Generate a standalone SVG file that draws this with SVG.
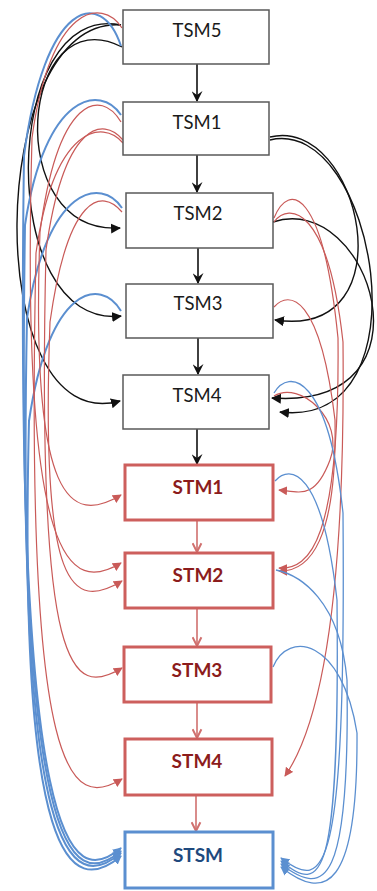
<svg xmlns="http://www.w3.org/2000/svg" width="377" height="891" viewBox="0 0 377 891">
<style>
.tsm rect{fill:#fff;stroke:#595959;stroke-width:1.5}
.stm rect{fill:#fff;stroke:#cd5f5d;stroke-width:3}
.stsm rect{fill:#fff;stroke:#5b8fd0;stroke-width:3}
text{font-family:Lato,"Open Sans","Liberation Sans",sans-serif;font-size:18.5px;text-anchor:middle}
.tsm text{fill:#1a1a1a}
.stm text{fill:#8c1c1c;font-weight:bold;font-size:19px}
.stsm text{fill:#1f497d;font-weight:bold;font-size:19px}
.k{fill:none;stroke:#111;stroke-width:1.4}
.kv{fill:none;stroke:#111;stroke-width:1.6}
.r{fill:none;stroke:#c95a58;stroke-width:1.2}
.rv{fill:none;stroke:#d0706e;stroke-width:1.6}
.b{fill:none;stroke:#5b8fd0;stroke-width:1.3}
.bl{fill:none;stroke:#5b8fd0;stroke-width:2}
</style>
<defs>
<marker id="mkv" viewBox="0 0 10 10" refX="9" refY="5" markerWidth="11" markerHeight="11" markerUnits="userSpaceOnUse" orient="auto"><path d="M0,0 L10,5 L0,10 L3.5,5 z" fill="#111"/></marker>
<marker id="mk" viewBox="0 0 10 10" refX="9" refY="5" markerWidth="10" markerHeight="10" markerUnits="userSpaceOnUse" orient="auto"><path d="M0,0 L10,5 L0,10 z" fill="#111"/></marker>
<marker id="mrv" viewBox="0 0 10 10" refX="9" refY="5" markerWidth="11" markerHeight="11" markerUnits="userSpaceOnUse" orient="auto"><path d="M1,1 L9,5 L1,9" fill="none" stroke="#d0706e" stroke-width="1.8"/></marker>
<marker id="mr" viewBox="0 0 10 10" refX="9" refY="5" markerWidth="9" markerHeight="9" markerUnits="userSpaceOnUse" orient="auto"><path d="M0,0 L10,5 L0,10 z" fill="#c95a58"/></marker>
<marker id="mb" viewBox="0 0 10 10" refX="9" refY="5" markerWidth="9" markerHeight="9" markerUnits="userSpaceOnUse" orient="auto"><path d="M0,0 L10,5 L0,10 z" fill="#5b8fd0"/></marker>
</defs>
<g id="connectors">
<path class="kv" d="M197,64 L197,101" marker-end="url(#mkv)"/>
<path class="kv" d="M197,155 L197,192" marker-end="url(#mkv)"/>
<path class="kv" d="M198,248 L198,283" marker-end="url(#mkv)"/>
<path class="kv" d="M198,338 L198,374" marker-end="url(#mkv)"/>
<path class="kv" d="M197,429 L197,464" marker-end="url(#mkv)"/>
<path class="rv" d="M197,521 L197,552" marker-end="url(#mrv)"/>
<path class="rv" d="M197,609 L197,646" marker-end="url(#mrv)"/>
<path class="rv" d="M197,703 L197,738" marker-end="url(#mrv)"/>
<path class="rv" d="M196,796 L196,831" marker-end="url(#mrv)"/>
<path class="k" d="M122,47 C20,-5 0,235 120,228" marker-end="url(#mk)"/>
<path class="k" d="M121,25 C0,0 -5,330 121,316" marker-end="url(#mk)"/>
<path class="k" d="M121,25 C-15,15 -20,440 120,401" marker-end="url(#mk)"/>
<path class="k" d="M270,137 C360,115 410,340 275,320" marker-end="url(#mk)"/>
<path class="k" d="M270,140 C375,115 430,430 280,412" marker-end="url(#mk)"/>
<path class="k" d="M273,222 C370,190 440,410 272,398" marker-end="url(#mk)"/>
<path class="bl" d="M121,46 C101,-14 44,1 24,156 C14,858 71,890 121,848" marker-end="url(#mb)"/>
<path class="bl" d="M121,115 C101,84 45,92 25,225 C15,861 71,893 121,851" marker-end="url(#mb)"/>
<path class="bl" d="M122,208 C102,177 47,185 27,318 C16,863 71,895 121,853" marker-end="url(#mb)"/>
<path class="bl" d="M121,311 C101,277 49,285 29,421 C18,866 71,898 121,856" marker-end="url(#mb)"/>
<path class="r" d="M122,28 C102,-3 50,5 32,138 C20,573 71,593 121,563" marker-end="url(#mr)"/>
<path class="r" d="M121,122 C101,88 58,96 40,232 C30,505 71,525 121,495" marker-end="url(#mr)"/>
<path class="r" d="M123,140 C103,116 64,122 46,250 C36,678 72,698 122,668" marker-end="url(#mr)"/>
<path class="r" d="M123,143 C103,119 54,125 36,253 C24,789 72,809 122,779" marker-end="url(#mr)"/>
<path class="r" d="M122,212 C102,188 68,194 50,322 C40,591 72,611 122,581" marker-end="url(#mr)"/>
<path class="r" d="M274,218 C289,181 323,189 338,338 C340,540 310,570 279,568" marker-end="url(#mr)"/>
<path class="r" d="M274,222 C289,202 328,206 343,342 C346,650 310,740 285,776" marker-end="url(#mr)"/>
<path class="r" d="M274,307 C289,290 320,294 335,420 C337,540 310,572 279,571" marker-end="url(#mr)"/>
<path class="r" d="M274,396 C300,380 345,420 330,460 C315,500 300,492 279,490" marker-end="url(#mr)"/>
<path class="b" d="M274,393 C289,368 328,374 343,513 C346,880 325,892 281,858" marker-end="url(#mb)"/>
<path class="b" d="M275,481 C290,464 322,468 337,600 C340,883 322,895 281,861" marker-end="url(#mb)"/>
<path class="b" d="M276,570 C300,575 340,600 347,680 C350,886 325,898 281,864" marker-end="url(#mb)"/>
<path class="b" d="M273,667 C288,630 342,638 357,733 C358,890 325,902 281,867" marker-end="url(#mb)"/>
</g>
<g id="TSM5" class="tsm"><rect x="123" y="10" width="146" height="54"/><text x="197" y="37">TSM5</text></g>
<g id="TSM1" class="tsm"><rect x="123" y="102" width="146" height="53"/><text x="197" y="129">TSM1</text></g>
<g id="TSM2" class="tsm"><rect x="126" y="193" width="147" height="55"/><text x="198" y="220">TSM2</text></g>
<g id="TSM3" class="tsm"><rect x="126" y="284" width="147" height="54"/><text x="198" y="310">TSM3</text></g>
<g id="TSM4" class="tsm"><rect x="123" y="375" width="146" height="54"/><text x="197" y="402">TSM4</text></g>
<g id="STM1" class="stm"><rect x="125" y="465" width="148" height="55"/><text x="198" y="494">STM1</text></g>
<g id="STM2" class="stm"><rect x="125" y="553" width="148" height="55"/><text x="198" y="582">STM2</text></g>
<g id="STM3" class="stm"><rect x="124" y="647" width="147" height="55"/><text x="197" y="677">STM3</text></g>
<g id="STM4" class="stm"><rect x="125" y="739" width="147" height="56"/><text x="197" y="768">STM4</text></g>
<g id="STSM" class="stsm"><rect x="125" y="832" width="148" height="56"/><text x="198" y="862">STSM</text></g>
</svg>
